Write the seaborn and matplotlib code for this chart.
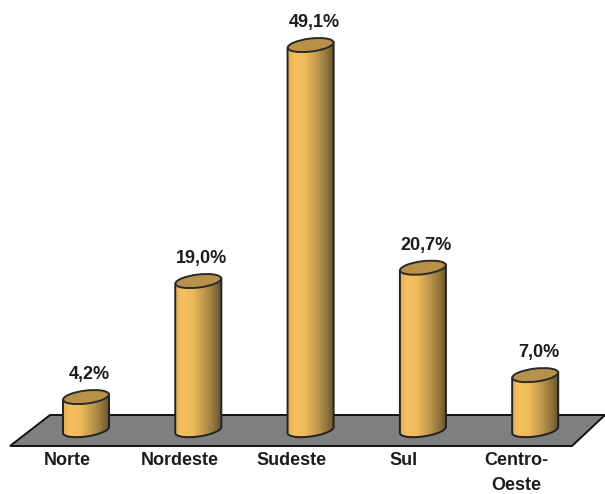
import numpy as np
import pandas as pd
import seaborn as sns
import matplotlib.pyplot as plt
from matplotlib.colors import LinearSegmentedColormap
from matplotlib.patches import Ellipse, Polygon, PathPatch
from matplotlib.path import Path
from matplotlib.transforms import IdentityTransform, ScaledTranslation

regions = ["Norte", "Nordeste", "Sudeste", "Sul", "Centro-\nOeste"]
shares = [4.2, 19.0, 49.1, 20.7, 7.0]
share_labels = ["4,2%", "19,0%", "49,1%", "20,7%", "7,0%"]

sns.set_theme(style="white")
plt.rcParams["font.family"] = ["Liberation Sans", "DejaVu Sans"]

W, H = 605, 494
fig = plt.figure(figsize=(W / 100, H / 100), dpi=100)
ax = fig.add_axes([0, 0, 1, 1])
ax.patch.set_alpha(0)

df = pd.DataFrame({"region": regions, "share": shares})
sns.barplot(data=df, x="region", y="share", width=0.41, color="#FFC864", ax=ax, zorder=3)
bars = ax.containers[0]

ax.set_xlim(-86 / 112.3, (W - 86) / 112.3)
ax.set_ylim(-64 / 7.84, 430 / 7.84)
ax.set_xlabel("")
ax.set_ylabel("")
ax.set_yticks([])
sns.despine(ax=ax, left=True, bottom=True)
# keep the labels just under the floor
ax.spines["bottom"].set_position(("data", 0))
ax.tick_params(axis="x", length=0, pad=16, labelsize=13, labelcolor="#1c1c1c")
# labels sit left of their bars in the original
shift = ScaledTranslation(-19 / 100, 0, fig.dpi_scale_trans)
for lab in ax.get_xticklabels():
    lab.set_fontweight("bold")
    lab.set_linespacing(1.6)
    lab.set_transform(lab.get_transform() + shift)

# grey floor, in axes fractions
floor = [(10 / W, 1 - 446 / H), (50 / W, 1 - 415 / H), (W / W, 1 - 415 / H), (572 / W, 1 - 446 / H)]
ax.add_patch(Polygon(floor, closed=True, transform=ax.transAxes, facecolor="#7f7f7f",
                     edgecolor="#111111", linewidth=1.4, zorder=1))

# banded shading across a cylinder
cyl = LinearSegmentedColormap.from_list("cyl", [
    (0.00, "#e6b257"), (0.10, "#f6c05f"), (0.36, "#efba5c"), (0.50, "#d6a956"),
    (0.65, "#bb964c"), (0.80, "#a08042"), (0.92, "#856b37"), (1.00, "#6a562e")])
shade = np.linspace(0, 1, 12).reshape(1, -1)

tilt = 7
cap_h = 13
for bar in bars:
    bar.set_visible(False)
    x0, y0 = ax.transData.transform((bar.get_x(), bar.get_y()))
    x1, y1 = ax.transData.transform((bar.get_x() + bar.get_width(), bar.get_height()))
    cx = (x0 + x1) / 2
    w = x1 - x0
    # lower half of the base ellipse, then up the side and over to the top
    t = np.linspace(np.pi, 2 * np.pi, 40)
    ex = cx + w / 2 * np.cos(t)
    ey = y0 + cap_h / 2 * np.sin(t) + 3 * np.cos(t)
    pts = np.column_stack([np.r_[ex, x1, x0], np.r_[ey, y1 + 3, y1 - 3]])
    path = Path(np.vstack([pts, pts[0]]), closed=True)
    im = ax.imshow(shade, cmap=cyl, extent=(x0, x1, y0 - 12, y1 + 4), aspect="auto",
                   interpolation="bilinear", transform=IdentityTransform(), zorder=3)
    outline = PathPatch(path, transform=IdentityTransform(), facecolor="none",
                        edgecolor="#222222", linewidth=1.4, zorder=4)
    ax.add_patch(outline)
    im.set_clip_path(outline)
    ax.add_patch(Ellipse((cx, y1), w, cap_h, angle=tilt, transform=IdentityTransform(),
                         facecolor="#b8924a", edgecolor="#2a2a2a", linewidth=1.4, zorder=5))

ax.set_xlim(-86 / 112.3, (W - 86) / 112.3)
ax.set_ylim(-64 / 7.84, 430 / 7.84)

value_labels = ax.bar_label(bars, labels=share_labels, padding=10, fontsize=13,
                            fontweight="bold", color="#1c1c1c", zorder=6)
for lab in value_labels:
    lab.xyann = (2.5, 10)

fig.savefig("out.png", dpi=100)
